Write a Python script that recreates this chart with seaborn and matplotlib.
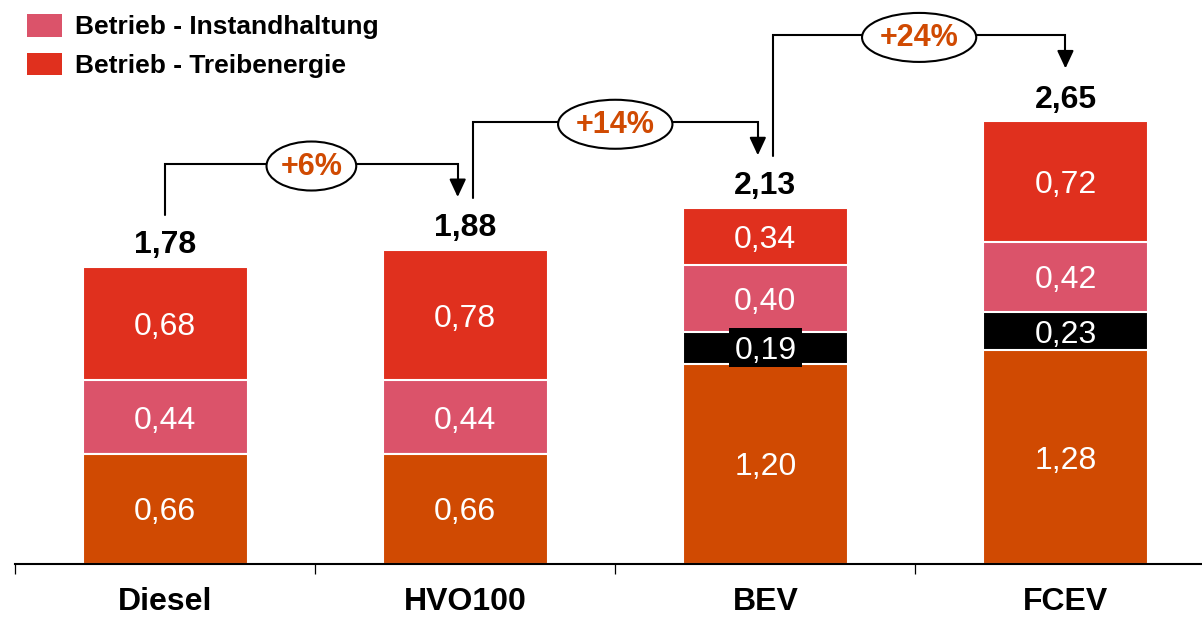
import numpy as np
import seaborn as sns
import matplotlib.pyplot as plt
from matplotlib.patches import Ellipse, Patch, Rectangle

# Kosten je Antriebsart (Segmente von unten nach oben)
categories = ["Diesel", "HVO100", "BEV", "FCEV"]
anschaffung = [0.66, 0.66, 1.20, 1.28]
infrastruktur = [0.00, 0.00, 0.19, 0.23]
instandhaltung = [0.44, 0.44, 0.40, 0.42]
treibenergie = [0.68, 0.78, 0.34, 0.72]
totals = [1.78, 1.88, 2.13, 2.65]
changes = ["+6%", "+14%", "+24%"]
legend_labels = ["Betrieb - Instandhaltung", "Betrieb - Treibenergie"]

ORANGE = "#D04A02"
BLACK = "#000000"
PINK = "#DB536A"
RED = "#E0301E"

sns.set_theme(style="white")
plt.rcParams["font.family"] = ["Liberation Sans", "DejaVu Sans"]
plt.rcParams["text.color"] = "black"
plt.rcParams["xtick.color"] = "black"

W, H = 1202, 617
fig = plt.figure(figsize=(W / 100, H / 100), dpi=100)
ax = fig.add_axes([15 / W, 53 / H, 1187 / W, 564 / H])

layers = [anschaffung, infrastruktur, instandhaltung, treibenergie]
colors = [ORANGE, BLACK, PINK, RED]
cum = np.cumsum(np.array(layers), axis=0)

# stacked bars: draw cumulative heights from the top layer down
for k in range(len(layers) - 1, -1, -1):
    sns.barplot(x=categories, y=cum[k], color=colors[k], saturation=1,
                width=0.55, edgecolor="white", linewidth=1.5,
                errorbar=None, ax=ax)

XMIN, XMAX = -0.5, 3.455
YMAX = 3.377
ax.set_xlim(XMIN, XMAX)
ax.set_ylim(0, YMAX)
px_x = (XMAX - XMIN) / 1187.0   # data units per pixel
px_y = YMAX / 564.0

# segment values
for k, vals in enumerate(layers):
    for i, v in enumerate(vals):
        if v <= 0:
            continue
        yc = cum[k][i] - v / 2
        if colors[k] == BLACK and v / px_y < 37:
            # black plate behind the label where the segment is too thin for it
            bw, bh = 73 * px_x, 39 * px_y
            ax.add_patch(Rectangle((i - bw / 2, yc - bh / 2), bw, bh,
                                   facecolor=BLACK, edgecolor="none", zorder=4))
        ax.text(i, yc, f"{v:.2f}".replace(".", ","),
                ha="center", va="center_baseline", color="white",
                fontsize=23, zorder=5)

# totals above the bars
for i, t in enumerate(totals):
    ax.annotate(f"{t:.2f}".replace(".", ","), xy=(i, t), xytext=(0, 10),
                textcoords="offset points", ha="center", va="baseline",
                fontsize=23, fontweight="bold", color="black")

# connectors with change labels
fig.canvas.draw()
renderer = fig.canvas.get_renderer()
shift = 7.5 * px_x
for i, label in enumerate(changes):
    x0 = i + (shift if i > 0 else 0.0)
    x1 = (i + 1) - (shift if i + 1 < len(changes) else 0.0)
    y0 = totals[i] + 52 * px_y
    level = totals[i + 1] + 86 * px_y
    tip = totals[i + 1] + 53 * px_y
    ax.plot([x0, x0, x1, x1], [y0, level, level, tip + 14 * px_y],
            color="black", lw=1.5, solid_joinstyle="miter", zorder=3)
    ax.annotate("", xy=(x1, tip), xytext=(x1, tip + 16 * px_y),
                arrowprops=dict(arrowstyle="-|>,head_length=0.9,head_width=0.42",
                                mutation_scale=12, color="black", lw=1.5,
                                shrinkA=0, shrinkB=0), zorder=3)
    xm = (x0 + x1) / 2
    txt = ax.text(xm, level + 1.0 * px_y, label, ha="center", va="center_baseline",
                  fontsize=22, fontweight="bold", color=ORANGE, zorder=6)
    tw = txt.get_window_extent(renderer).width
    ell = Ellipse((xm, level - 2 * px_y), width=tw * 1.45 * px_x, height=49 * px_y,
                  facecolor="white", edgecolor="black", lw=1.5, zorder=4)
    ax.add_patch(ell)

# axes styling
for side in ["left", "right", "top"]:
    ax.spines[side].set_visible(False)
ax.spines["bottom"].set_color("black")
ax.spines["bottom"].set_linewidth(1.5)
ax.set_yticks([])
ax.set_xticks(range(len(categories)))
ax.set_xticklabels(categories, fontsize=23, fontweight="bold", color="black")
ax.set_xticks([-0.5, 0.5, 1.5, 2.5], minor=True)
ax.tick_params(axis="x", which="major", length=0, pad=16.5, colors="black")
ax.tick_params(axis="x", which="minor", length=7.5, width=0.9,
               direction="out", color="black", bottom=True)
ax.set_xlabel("")
ax.set_ylabel("")

handles = [Patch(facecolor=PINK, edgecolor="none"),
           Patch(facecolor=RED, edgecolor="none")]
leg = fig.legend(handles, legend_labels, loc="upper left",
                 bbox_to_anchor=(27 / W, 1 - 14 / H), frameon=False,
                 prop={"weight": "bold", "size": 19}, handlelength=1.33,
                 handleheight=0.95, handletextpad=0.5, labelspacing=0.5,
                 borderpad=0, borderaxespad=0)
for t in leg.get_texts():
    t.set_color("black")

fig.savefig("out.png", dpi=100)
